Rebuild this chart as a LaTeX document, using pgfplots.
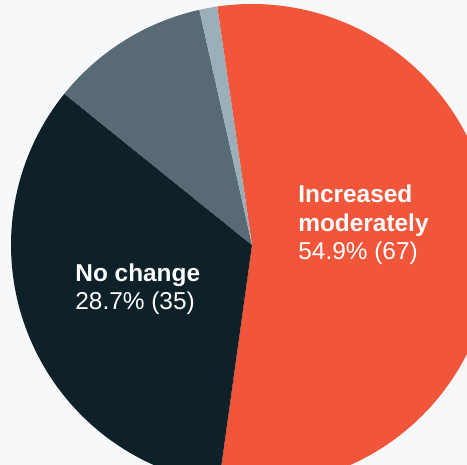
\documentclass[border=0pt]{standalone}
\usepackage{pgfplots}
\pgfplotsset{compat=1.18}
\usepackage{pgfplotstable}
\usepackage{fontspec}
\setmainfont{Liberation Sans}
\definecolor{bg}{RGB}{247,248,250}
\definecolor{cRed}{RGB}{241,85,58}
\definecolor{cDark}{RGB}{14,33,41}
\definecolor{cSlate}{RGB}{87,106,117}
\definecolor{cLight}{RGB}{155,175,185}

% shares of the full circle (percent), as drawn, clockwise from the start angle
\pgfplotstableread{
label share
inc   54.5
nochg 33.6
slate 10.7
light 1.2
}\piedata

\begin{document}
\begin{tikzpicture}
\useasboundingbox (0,0) rectangle (233.5pt,232.5pt);
\fill[bg] (0,0) rectangle (233.5pt,232.5pt);
\pgfplotstablegetelem{0}{share}\of\piedata \let\sA\pgfplotsretval
\pgfplotstablegetelem{1}{share}\of\piedata \let\sB\pgfplotsretval
\pgfplotstablegetelem{2}{share}\of\piedata \let\sC\pgfplotsretval
\pgfplotstablegetelem{3}{share}\of\piedata \let\sD\pgfplotsretval
\pgfmathsetmacro{\aO}{98.3}
\pgfmathsetmacro{\aA}{\aO-3.6*\sA}
\pgfmathsetmacro{\aB}{\aA-3.6*\sB}
\pgfmathsetmacro{\aC}{\aB-3.6*\sC}
\pgfmathsetmacro{\aD}{\aC-3.6*\sD}
\begin{axis}[
  x=0.5pt, y=0.5pt,
  xmin=0, xmax=467, ymin=0, ymax=465,
  enlargelimits=false,
  hide axis,
  clip=true,
  anchor=south west, at={(0,0)},
]
\addplot[fill=cRed, draw=none, domain=\aA:\aO, samples=120, variable=\t]
  ({252+241*cos(\t)}, {220+241*sin(\t)}) -- (axis cs:252,220) -- cycle;
\addplot[fill=cDark, draw=none, domain=\aB:\aA, samples=90, variable=\t]
  ({252+241*cos(\t)}, {220+241*sin(\t)}) -- (axis cs:252,220) -- cycle;
\addplot[fill=cSlate, draw=none, domain=\aC:\aB, samples=40, variable=\t]
  ({252+241*cos(\t)}, {220+241*sin(\t)}) -- (axis cs:252,220) -- cycle;
\addplot[fill=cLight, draw=none, domain=\aD:\aC, samples=10, variable=\t]
  ({252+241*cos(\t)}, {220+241*sin(\t)}) -- (axis cs:252,220) -- cycle;

\node[anchor=base west, inner sep=0, text=white, font=\fontsize{12.2}{14}\selectfont\bfseries] at (axis cs:298,262) {Increased};
\node[anchor=base west, inner sep=0, text=white, font=\fontsize{12.2}{14}\selectfont\bfseries] at (axis cs:298,233) {moderately};
\node[anchor=base west, inner sep=0, text=white, font=\fontsize{12.2}{14}\selectfont] at (axis cs:298,205) {54.9\% (67)};
\node[anchor=base west, inner sep=0, text=white, font=\fontsize{12.2}{14}\selectfont\bfseries] at (axis cs:75,183) {No change};
\node[anchor=base west, inner sep=0, text=white, font=\fontsize{12.2}{14}\selectfont] at (axis cs:75,155) {28.7\% (35)};
\end{axis}
\end{tikzpicture}
\end{document}
